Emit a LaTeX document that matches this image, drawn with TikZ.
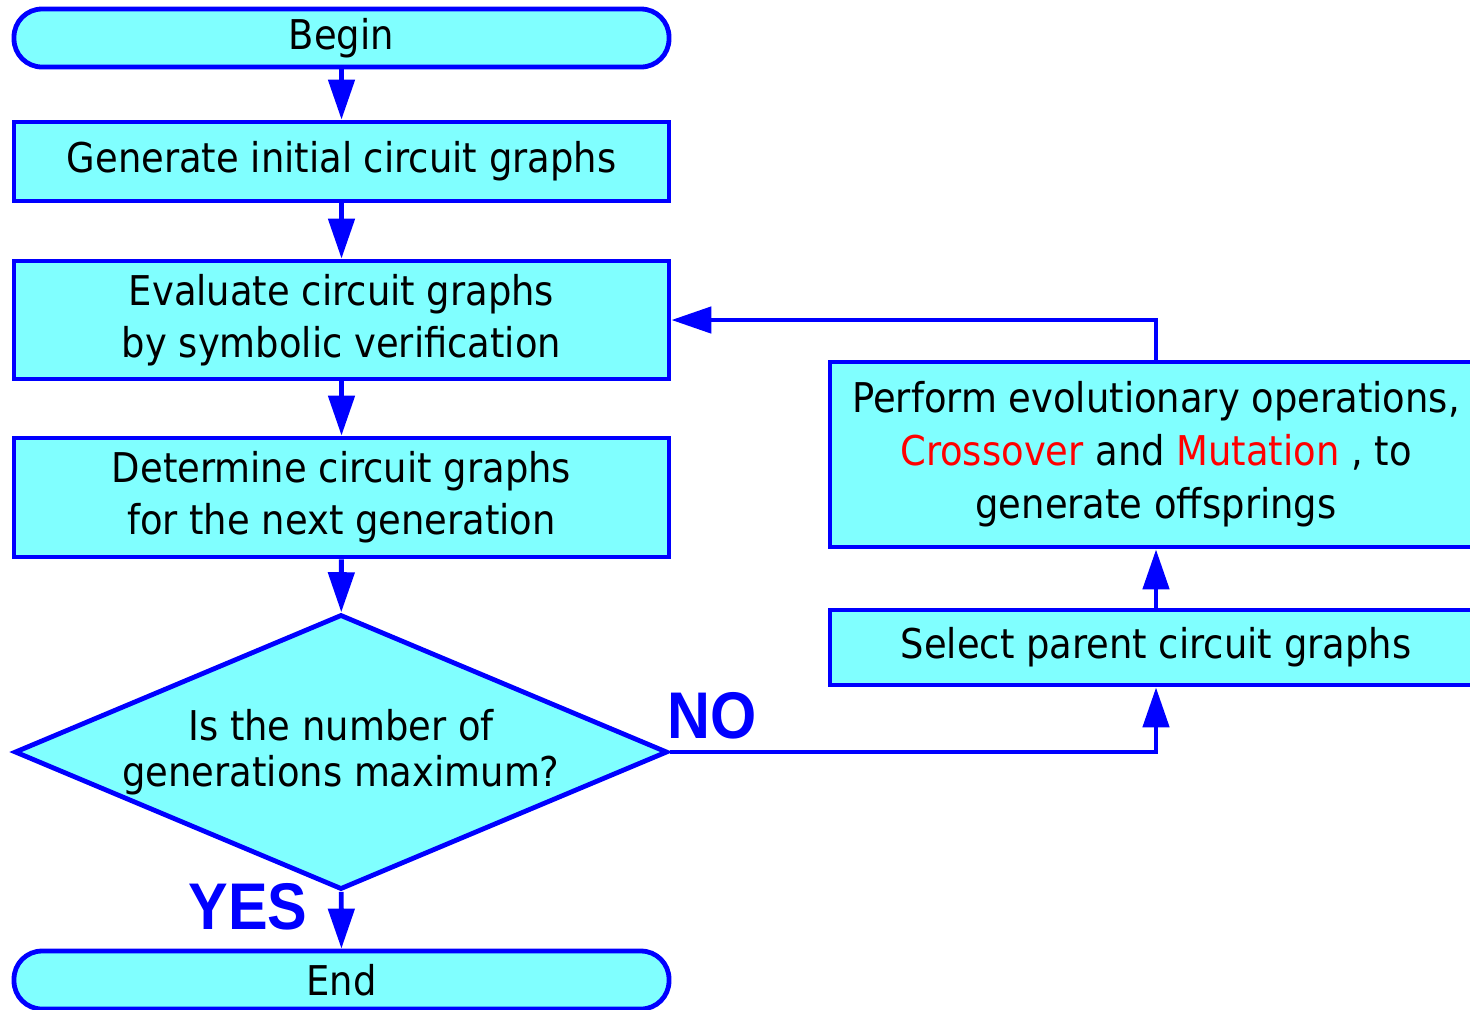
\documentclass[tikz,border=0pt]{standalone}
\usepackage{fontspec}
\setmainfont{DejaVu Sans}[FakeStretch=0.9]
\newfontfamily\answerfont{Liberation Sans}[FakeStretch=0.9]
\usetikzlibrary{shapes.geometric, arrows.meta}

\definecolor{flowfill}{RGB}{128,255,255}
\definecolor{flowline}{RGB}{0,0,255}

\begin{document}
\begin{tikzpicture}[x=0.5pt, y=-0.5pt,
  every node/.style={font=\fontsize{20.5pt}{26pt}\selectfont, text=black, align=center, inner sep=0pt},
  box/.style={draw=flowline, fill=flowfill, line width=2.4pt, minimum width=327.5pt},
  terminal/.style={box, rounded corners=14pt, minimum height=29pt},
  flow/.style={draw=flowline, line width=2.4pt, -{Triangle[length=20pt, width=13pt]}},
  answer/.style={font=\answerfont\bfseries\fontsize{33pt}{33pt}\selectfont, text=flowline}]

\useasboundingbox (0,0) rectangle (1470,1009);

% main column
\node[terminal] (begin) at (341.5,38) {Begin};
\node[box, minimum height=39.5pt] (init) at (341.5,161.5) {Generate initial circuit graphs};
\node[box, minimum height=59pt] (eval) at (341.5,320) {Evaluate circuit graphs\\by symbolic verification};
\node[box, minimum height=59.5pt] (next) at (341.5,497.5) {Determine circuit graphs\\for the next generation};
\node[box, diamond, aspect=2.37, minimum width=326.5pt, minimum height=137.5pt,
      font=\fontsize{20.5pt}{23pt}\selectfont] (check) at (341,752) {Is the number of\\generations maximum?};
\node[terminal] (end) at (341.5,980) {End};

% loop column
\node[box, minimum width=326pt, minimum height=92.5pt, font=\fontsize{20.5pt}{26.5pt}\selectfont] (evolve) at (1156,454.5)
  {Perform evolutionary operations,\\\textcolor{red}{Crossover} and \textcolor{red}{Mutation} , to\\generate offsprings};
\node[box, minimum width=326pt, minimum height=37.5pt] (select) at (1156,647.5) {Select parent circuit graphs};

% connectors
\draw[flow] (begin) -- (init);
\draw[flow] (init) -- (eval);
\draw[flow] (eval) -- (next);
\draw[flow] (next) -- (check);
\draw[flow] (check) -- (end);
\draw[flow] (check.east) -| (select.south);
\draw[flow] (select) -- (evolve);
\draw[flow] (evolve.north) |- (eval.east);

% branch labels
\node[answer] (no) at (712,716) {NO};
\node[answer] (yes) at (248,907) {YES};
\end{tikzpicture}
\end{document}
